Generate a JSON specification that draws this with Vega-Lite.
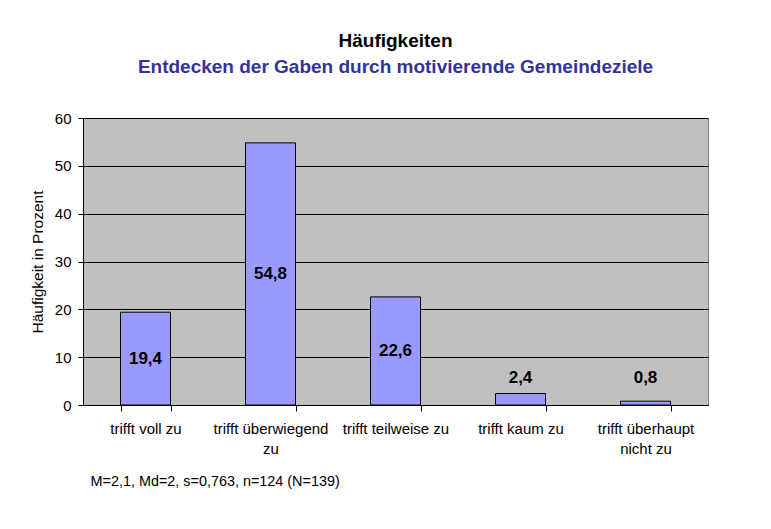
{
  "$schema": "https://vega.github.io/schema/vega-lite/v6.json",
  "width": 625,
  "height": 287,
  "autosize": {"type": "none"},
  "padding": {"left": 83, "top": 118, "right": 63, "bottom": 124},
  "background": "white",
  "title": {
    "text": "Häufigkeiten",
    "subtitle": "Entdecken der Gaben durch motivierende Gemeindeziele",
    "anchor": "middle",
    "frame": "group",
    "font": "Liberation Sans",
    "fontSize": 19,
    "fontWeight": "bold",
    "color": "black",
    "subtitleFont": "Liberation Sans",
    "subtitleFontSize": 19,
    "subtitleFontWeight": "bold",
    "subtitleColor": "#333399",
    "subtitlePadding": 7,
    "offset": 34
  },
  "data": {
    "values": [
      {"Kategorie": "trifft voll zu", "p": 19.4},
      {"Kategorie": "trifft überwiegend zu", "p": 54.8},
      {"Kategorie": "trifft teilweise zu", "p": 22.6},
      {"Kategorie": "trifft kaum zu", "p": 2.4},
      {"Kategorie": "trifft überhaupt nicht zu", "p": 0.8}
    ]
  },
  "transform": [
    {"calculate": "replace(format(datum.p, '.1f'), '.', ',')", "as": "label"},
    {"calculate": "datum.p > 10 ? datum.p / 2 : 5.6", "as": "labelPos"}
  ],
  "encoding": {
    "x": {
      "field": "Kategorie",
      "type": "nominal",
      "sort": null,
      "scale": {"paddingInner": 0.6, "paddingOuter": 0.3},
      "axis": {
        "labelAngle": 0,
        "tickBand": "extent",
        "grid": false,
        "domainColor": "black",
        "tickColor": "black",
        "tickSize": 6,
        "labelPadding": 10,
        "labelFont": "Liberation Sans",
        "labelFontSize": 15,
        "labelColor": "black",
        "labelLineHeight": 20,
        "labelExpr": "datum.value == 'trifft überwiegend zu' ? ['trifft überwiegend', 'zu'] : datum.value == 'trifft überhaupt nicht zu' ? ['trifft überhaupt', 'nicht zu'] : datum.value",
        "title": "M=2,1, Md=2, s=0,763, n=124 (N=139)",
        "titleFont": "Liberation Sans",
        "titleFontSize": 14.4,
        "titleFontWeight": "normal",
        "titleColor": "black",
        "titleAnchor": "start",
        "titleAlign": "left",
        "titleBaseline": "middle",
        "titleX": 7,
        "titleY": 76
      }
    }
  },
  "layer": [
    {
      "mark": {"type": "bar", "fill": "#9999FF", "stroke": "black", "strokeWidth": 1},
      "encoding": {
        "y": {
          "field": "p",
          "type": "quantitative",
          "scale": {"domain": [0, 60], "nice": false},
          "axis": {
            "values": [0, 10, 20, 30, 40, 50, 60],
            "grid": true,
            "gridColor": "black",
            "gridWidth": 1,
            "domainColor": "black",
            "tickColor": "black",
            "tickSize": 5,
            "labelPadding": 7,
            "labelFont": "Liberation Sans",
            "labelFontSize": 15,
            "labelColor": "black",
            "title": "Häufigkeit in Prozent",
            "titleFont": "Liberation Sans",
            "titleFontSize": 15.5,
            "titleFontWeight": "normal",
            "titleColor": "black",
            "titlePadding": 9
          }
        }
      }
    },
    {
      "mark": {"type": "text", "font": "Liberation Sans", "fontSize": 17, "fontWeight": "bold", "color": "black", "baseline": "middle"},
      "encoding": {
        "y": {"field": "labelPos", "type": "quantitative"},
        "text": {"field": "label"}
      }
    }
  ],
  "config": {
    "view": {"fill": "#C0C0C0", "stroke": "#808080", "strokeWidth": 1}
  }
}
